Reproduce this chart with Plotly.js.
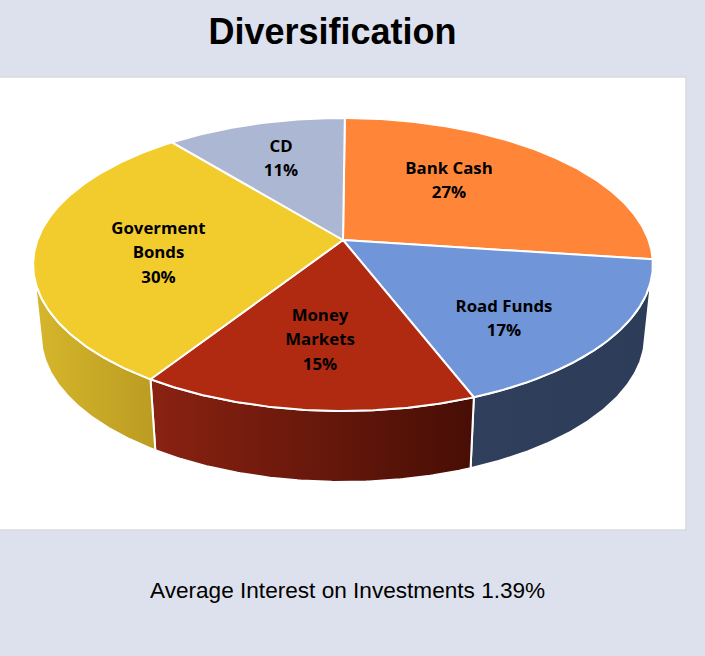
<!DOCTYPE html>
<html>
<head>
<meta charset="utf-8">
<script src="https://cdn.plot.ly/plotly-3.0.1.min.js"></script>
<style>html,body{margin:0;padding:0;background:#dde1ed;overflow:hidden}#chart{width:705px;height:656px}</style>
</head>
<body>
<div id="chart"></div>
<script>
// Portfolio split
const categoryLines = [['Bank Cash'], ['Road Funds'], ['Money', 'Markets'], ['Goverment', 'Bonds'], ['CD']];
const shares = [27, 17, 15, 30, 11];

// Slice styling
const topColors = ['#ff8638', '#7095d8', '#b02a12', '#f2cb2c', '#abb7d3'];
const wallScales = [
  ['#c46a2c', '#c46a2c'],
  ['#2f3f5c', '#2d3c58'],
  ['#8a2212', '#470e05'],
  ['#d6b62b', '#bb9c22'],
  ['#8894ad', '#8894ad']
];

// Tilted-disc projection, in page units
const hub = {x: 343, y: 240};
const disc = {a: 305.5, b: 142.4, k: 0.167, start: 0.4};
const wall = {drop: 71, shrink: 0.975, from: 105, to: 255};

// Label anchors for the first text line of each slice
const labelX = [449, 504, 320, 158.5, 281];
const labelY = [169.5, 307.5, 316.5, 229.5, 147.5];
const labelLeading = 24.7;

function rim(deg) {
  const t = deg * Math.PI / 180, u = Math.sin(t), v = -Math.cos(t), w = 1 - disc.k * v;
  return [hub.x + disc.a * u / w, hub.y + disc.b * v / w];
}
function lowerRim(deg) {
  const p = rim(deg);
  return [hub.x + (p[0] - hub.x) * wall.shrink, p[1] + wall.drop];
}
function sweep(a, b, fn) {
  const n = Math.max(2, Math.ceil(Math.abs(b - a) * 2)), out = [];
  for (let i = 0; i <= n; i++) out.push(fn(a + (b - a) * i / n));
  return out;
}

const traces = [];
const total = shares.reduce((s, v) => s + v, 0);
const bounds = [];
let running = 0;
shares.forEach(v => {
  const a = disc.start + running / total * 360;
  running += v;
  bounds.push([a, disc.start + running / total * 360]);
});

// Side walls go first so the top face sits over them
bounds.forEach(([a, b], i) => {
  const lo = Math.max(a, wall.from), hi = Math.min(b, wall.to);
  if (lo >= hi) return;
  const pts = sweep(lo, hi, rim).concat(sweep(hi, lo, lowerRim));
  pts.push(pts[0]);
  traces.push({
    type: 'scatter', mode: 'lines', hoverinfo: 'skip', showlegend: false,
    x: pts.map(p => p[0]), y: pts.map(p => p[1]),
    fill: 'toself',
    fillgradient: {type: 'horizontal', colorscale: [[0, wallScales[i][0]], [1, wallScales[i][1]]]},
    line: {color: '#ffffff', width: 2}
  });
});

bounds.forEach(([a, b], i) => {
  const pts = [[hub.x, hub.y]].concat(sweep(a, b, rim), [[hub.x, hub.y]]);
  traces.push({
    type: 'scatter', mode: 'lines', hoverinfo: 'skip', showlegend: false,
    x: pts.map(p => p[0]), y: pts.map(p => p[1]),
    fill: 'toself', fillcolor: topColors[i],
    line: {color: '#ffffff', width: 2}
  });
});

// Category name lines followed by the share
const tx = [], ty = [], tt = [];
categoryLines.forEach((lines, i) => {
  lines.concat([shares[i] + '%']).forEach((s, j) => {
    tx.push(labelX[i]);
    ty.push(labelY[i] + j * labelLeading);
    tt.push(s);
  });
});
traces.push({
  type: 'scatter', mode: 'text', hoverinfo: 'skip', showlegend: false,
  x: tx, y: ty, text: tt, textposition: 'middle center',
  textfont: {family: 'Open Sans, sans-serif', size: 16.8, color: '#000000', weight: 700}
});

const layout = {
  width: 705, height: 656,
  margin: {l: 0, r: 0, t: 0, b: 0},
  paper_bgcolor: '#dde1ed', plot_bgcolor: 'rgba(0,0,0,0)',
  showlegend: false,
  title: {
    text: '<b>Diversification</b>',
    font: {family: 'Liberation Sans, Arial, sans-serif', size: 36, color: '#000000'},
    x: 332.5 / 705, xref: 'paper', xanchor: 'center',
    y: 1 - 31 / 656, yref: 'paper', yanchor: 'middle'
  },
  xaxis: {range: [0, 705], visible: false, fixedrange: true},
  yaxis: {range: [656, 0], visible: false, fixedrange: true},
  shapes: [{
    type: 'rect', layer: 'below', xref: 'x', yref: 'y',
    x0: -5, x1: 686, y0: 77, y1: 530,
    fillcolor: '#ffffff', line: {color: '#d8dade', width: 1.5}
  }],
  annotations: [{
    text: 'Average Interest on Investments 1.39%',
    xref: 'x', yref: 'y', x: 347, y: 590, showarrow: false,
    xanchor: 'center', yanchor: 'middle',
    font: {family: 'Liberation Sans, Arial, sans-serif', size: 22.6, color: '#000000'}
  }]
};

Plotly.newPlot('chart', traces, layout, {displayModeBar: false, staticPlot: true});
</script>
</body>
</html>
